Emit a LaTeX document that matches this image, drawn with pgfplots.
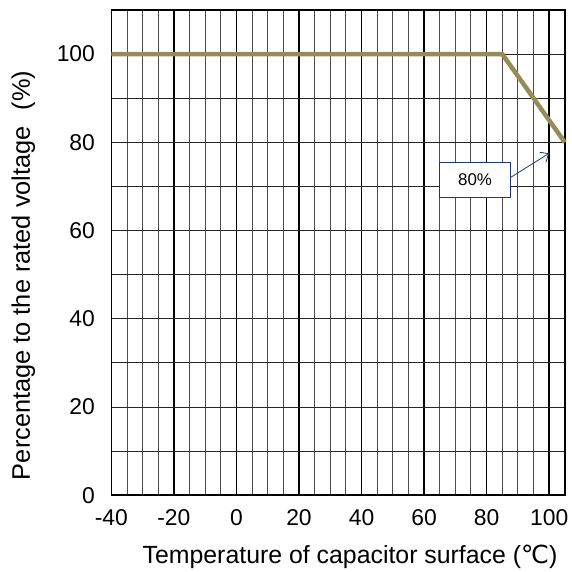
\documentclass[border=0pt]{standalone}
\usepackage{pgfplots}
\pgfplotsset{compat=1.18}
\usetikzlibrary{arrows.meta}
\usepackage{fontspec}
\setmainfont{Liberation Sans}
\newfontfamily\dejavu{DejaVu Sans}
\definecolor{curve}{RGB}{150,140,88}
\definecolor{boxblue}{RGB}{30,55,120}
\begin{document}
\begin{tikzpicture}
\begin{axis}[
  scale only axis,
  width=456pt, height=488pt,
  xmin=-40, xmax=105, ymin=0, ymax=110,
  xtick={-40,-20,0,20,40,60,80,100},
  minor xtick={-35,-30,-25,-15,-10,-5,5,10,15,25,30,35,45,50,55,65,70,75,85,90,95,105},
  ytick={0,20,40,60,80,100},
  minor ytick={10,30,50,70,90,110},
  major tick length=0pt, minor tick length=0pt,
  grid=both,
  major x grid style={black, line width=1.5pt},
  minor x grid style={black!70, line width=1pt},
  major y grid style={black!85, line width=0.9pt},
  minor y grid style={black!85, line width=0.9pt},
  axis line style={black, line width=1.6pt},
  tick label style={font=\fontsize{23}{26}\selectfont},
  /pgf/number format/assume math mode=true,
  xticklabel style={yshift=-11pt},
  yticklabel style={xshift=-13pt},
  xlabel={Temperature of capacitor surface ({\dejavu ℃})},
  ylabel={Percentage to the rated voltage\hspace{16pt}(\%)},
  label style={font=\fontsize{25}{28}\selectfont},
  xlabel style={yshift=-12.5pt, xshift=12pt},
  ylabel style={yshift=15pt, xshift=-23pt, font=\fontsize{25.5}{28}\selectfont},
  clip=false,
]
\addplot[curve, line width=4.5pt] coordinates {(-40,100) (85,100) (105,80)};
\draw[boxblue, line width=0.8pt, -{Straight Barb[length=7pt,width=12pt]}] (axis cs:87.6,72) -- (axis cs:100,77.5);
\node[draw=boxblue, line width=0.8pt, fill=white, minimum width=71pt, minimum height=35pt, inner sep=0pt, font=\fontsize{17}{19}\selectfont] at (axis cs:76.3,71.5) {80\%};
\path (rel axis cs:0,0) ++(-112pt,-74pt) coordinate (bl);
\path (rel axis cs:1,1) ++(0pt,10pt) coordinate (tr);
\path (bl) -- (tr);
\end{axis}
\end{tikzpicture}
\end{document}
